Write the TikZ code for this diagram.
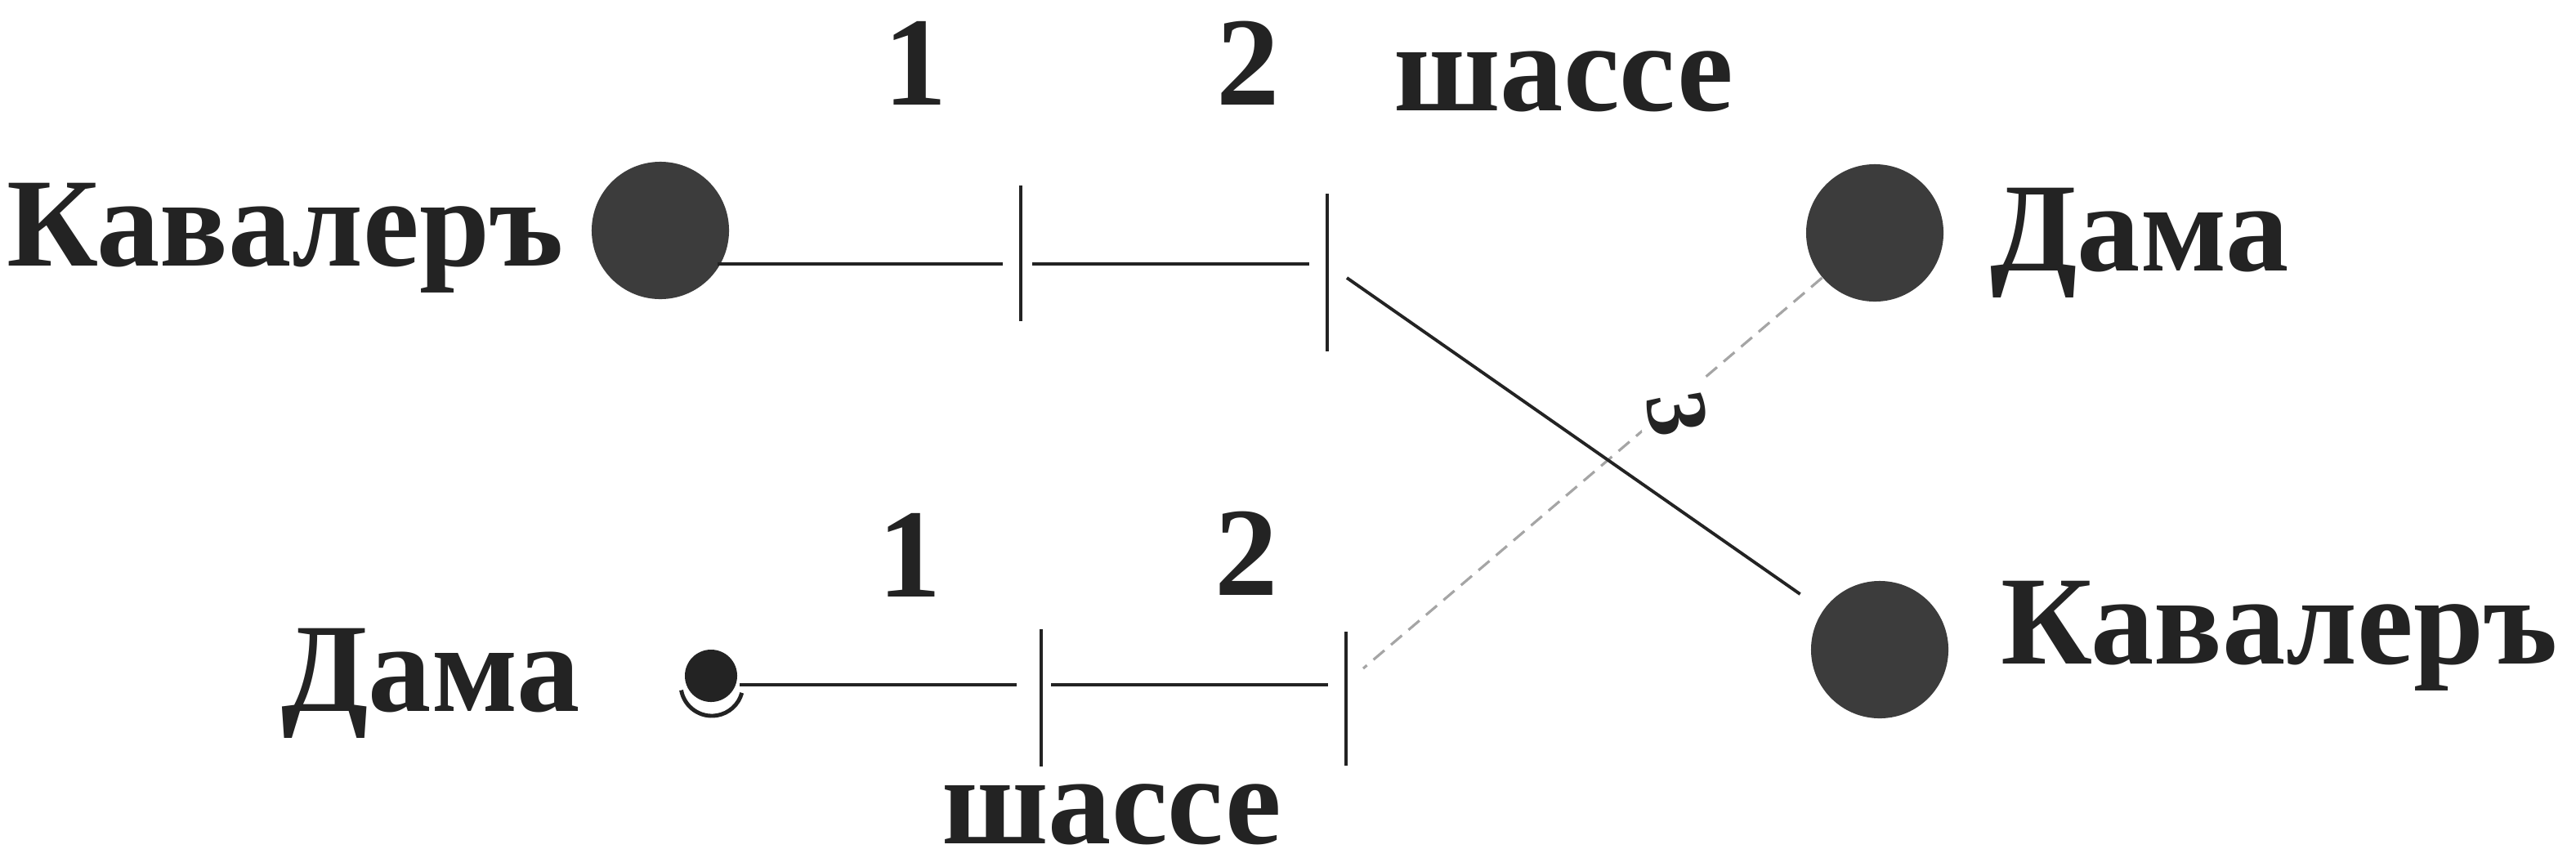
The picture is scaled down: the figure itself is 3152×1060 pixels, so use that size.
\documentclass[tikz,border=0pt]{standalone}
\usepackage{fontspec}
\setmainfont{Liberation Serif}
\usepackage{tikz}
\usetikzlibrary{calc}
\definecolor{inkdark}{RGB}{35,35,35}
\definecolor{inkdot}{RGB}{60,60,60}
\definecolor{inkfaint}{RGB}{165,165,165}
\tikzset{
  lbl/.style={inner sep=0pt, anchor=base, text=inkdark, font=\fontsize{44}{50}\selectfont\bfseries},
  steplbl/.style={lbl, font=\fontsize{30}{34}\selectfont\bfseries},
  bigdot/.style={circle, fill=inkdot, draw=none, minimum size=1.68cm, inner sep=0pt},
  smalldot/.style={circle, fill=inkdark, draw=none, minimum size=0.64cm, inner sep=0pt},
  track/.style={draw=inkdark, line width=1pt},
  tickmark/.style={draw=inkdark, line width=1.3pt},
  cross/.style={draw=inkdark, line width=1.1pt},
  faint/.style={draw=inkfaint, line width=0.9pt, dash pattern=on 5pt off 3pt}
}

\begin{document}
\begin{tikzpicture}[x=0.01cm, y=-0.01cm]
  \useasboundingbox (0,0) rectangle (3152,1060);

  % upper couple
  \node[lbl] (kavLtxt) at (349,325) {Кавалеръ};
  \node[bigdot] (kavLdot) at (808,282) {};
  \node[lbl] (n1top) at (1120,128) {1};
  \node[lbl] (n2top) at (1527,128) {2};
  \node[lbl] (shasseTop) at (1913,135) {шассе};
  \coordinate (a0) at (878,323);
  \coordinate (t1) at (1249,323);
  \coordinate (t2) at (1624,323);
  \draw[track, shorten >=0.22cm] (a0) -- (t1);
  \draw[track, shorten <=0.14cm, shorten >=0.22cm] (t1) -- (t2);
  \draw[tickmark] (1249,227) -- (1249,393);
  \draw[tickmark] (1624,237) -- (1624,430);

  % lower couple
  \node[lbl] (damaLtxt) at (527,870) {Дама};
  \node[smalldot] (damaLdot) at (870,827) {};
  \coordinate (ringc) at (871,838);
  \draw[track, line width=1.4pt] (ringc) ++(190:0.38cm) arc[start angle=190, end angle=345, radius=0.38cm];
  \node[lbl] (n1bot) at (1113,730) {1};
  \node[lbl] (n2bot) at (1525,728) {2};
  \node[lbl] (shasseBot) at (1360,1032) {шассе};
  \coordinate (b0) at (905,838);
  \coordinate (u1) at (1274,838);
  \coordinate (u2) at (1647,838);
  \draw[track, shorten >=0.3cm] (b0) -- (u1);
  \draw[track, shorten <=0.12cm, shorten >=0.22cm] (u1) -- (u2);
  \draw[tickmark] (1274,770) -- (1274,938);
  \draw[tickmark] (1647,773) -- (1647,937);

  % crossing to the right side
  \node[bigdot] (damaRdot) at (2294,285) {};
  \node[lbl] (damaRtxt) at (2618,331) {Дама};
  \node[bigdot] (kavRdot) at (2300,795) {};
  \node[lbl] (kavRtxt) at (2789,812) {Кавалеръ};
  \coordinate (d0) at (1648,340);
  \coordinate (e0) at (1668,818);
  \draw[faint] (damaRdot) -- (e0);
  \draw[cross, shorten >=0.34cm] (d0) -- (kavRdot);
  \node[steplbl, anchor=center, fill=white, inner sep=3pt, rotate=-80] (three) at (2052,506) {3};
\end{tikzpicture}
\end{document}
